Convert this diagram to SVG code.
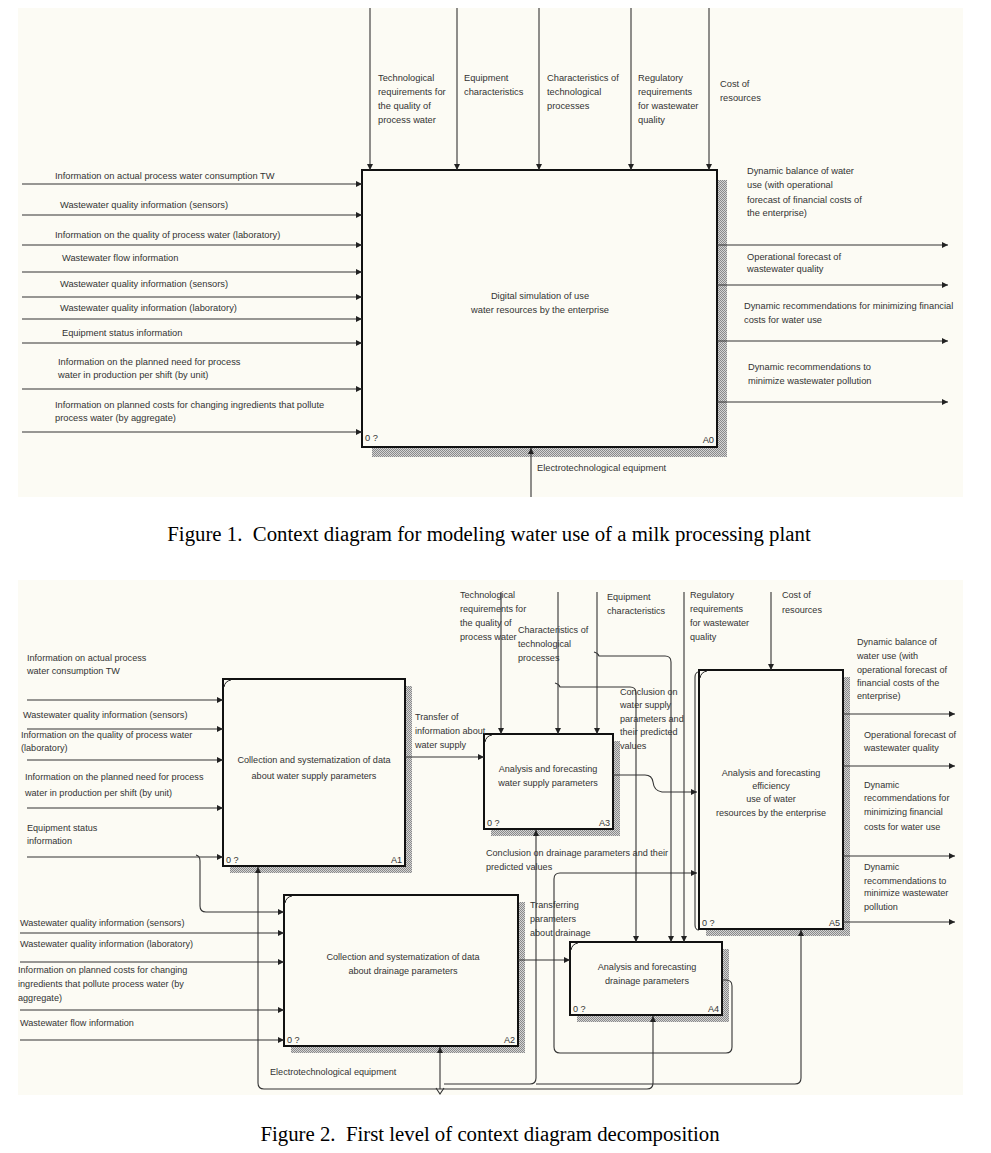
<svg xmlns="http://www.w3.org/2000/svg" width="991" height="1153" viewBox="0 0 991 1153">
<style>
.bg{fill:#fcfbf4}
.box{fill:#fcfbf4;stroke:#111;stroke-width:2}
.sh{fill:url(#hatch)}
.ln{fill:none;stroke:#333;stroke-width:1.1}
.cm{fill:none;stroke:#222;stroke-width:1}
.t1{font-family:"Liberation Sans",Arial,sans-serif;font-size:9.3px;fill:#333}
.t2{font-family:"Liberation Sans",Arial,sans-serif;font-size:9.1px;fill:#333}
.cap{font-family:"Liberation Serif","Times New Roman",serif;font-size:20.8px;fill:#000}
.mid{text-anchor:middle}
.end{text-anchor:end}
</style>
<defs>
<pattern id="hatch" width="2" height="2" patternUnits="userSpaceOnUse">
<rect width="2" height="2" fill="#d4d4d4"/>
<rect width="1" height="1" fill="#8a8a8a"/>
<rect x="1" y="1" width="1" height="1" fill="#8a8a8a"/>
</pattern>
<marker id="ar" viewBox="0 0 10 10" refX="10" refY="5" markerWidth="8" markerHeight="6" markerUnits="userSpaceOnUse" orient="auto">
<path d="M0,0 L10,5 L0,10 z" fill="#222"/>
</marker>
</defs>
<rect x="0" y="0" width="991" height="1153" fill="#ffffff"/>
<rect class="bg" x="18" y="8" width="945" height="489"/>
<rect class="bg" x="18" y="580" width="945" height="515"/>

<!-- ===== Figure 1 ===== -->
<g id="fig1-A0">
<rect class="sh" x="372" y="180" width="355" height="277"/>
<rect class="box" x="362" y="170" width="355" height="277"/>
<text class="t1 mid" x="540" y="299">Digital simulation of use</text>
<text class="t1 mid" x="540" y="313">water resources by the enterprise</text>
<text class="t1" x="365" y="441">0 ?</text>
<text class="t1 end" x="714" y="443">A0</text>
</g>

<g id="fig1-connectors">
<path class="ln" d="M370 8 L370 170" marker-end="url(#ar)"/>
<path class="ln" d="M457 8 L457 170" marker-end="url(#ar)"/>
<path class="ln" d="M539 8 L539 170" marker-end="url(#ar)"/>
<path class="ln" d="M631 8 L631 170" marker-end="url(#ar)"/>
<path class="ln" d="M709 8 L709 170" marker-end="url(#ar)"/>
<path class="ln" d="M22 184 L362 184" marker-end="url(#ar)"/>
<path class="ln" d="M22 215 L362 215" marker-end="url(#ar)"/>
<path class="ln" d="M22 245 L362 245" marker-end="url(#ar)"/>
<path class="ln" d="M22 272 L362 272" marker-end="url(#ar)"/>
<path class="ln" d="M22 297 L362 297" marker-end="url(#ar)"/>
<path class="ln" d="M22 319 L362 319" marker-end="url(#ar)"/>
<path class="ln" d="M22 343 L362 343" marker-end="url(#ar)"/>
<path class="ln" d="M22 389 L362 389" marker-end="url(#ar)"/>
<path class="ln" d="M22 432 L362 432" marker-end="url(#ar)"/>
<path class="ln" d="M717 245 L948 245" marker-end="url(#ar)"/>
<path class="ln" d="M717 285 L948 285" marker-end="url(#ar)"/>
<path class="ln" d="M717 341 L948 341" marker-end="url(#ar)"/>
<path class="ln" d="M717 402 L948 402" marker-end="url(#ar)"/>
<path class="ln" d="M531 497 L531 448" marker-end="url(#ar)"/>
</g>

<g id="fig1-labels">
<text class="t1" x="378" y="81">Technological</text>
<text class="t1" x="378" y="95">requirements for</text>
<text class="t1" x="378" y="109">the quality of</text>
<text class="t1" x="378" y="123">process water</text>
<text class="t1" x="464" y="81">Equipment</text>
<text class="t1" x="464" y="95">characteristics</text>
<text class="t1" x="547" y="81">Characteristics of</text>
<text class="t1" x="547" y="95">technological</text>
<text class="t1" x="547" y="109">processes</text>
<text class="t1" x="638" y="81">Regulatory</text>
<text class="t1" x="638" y="95">requirements</text>
<text class="t1" x="638" y="109">for wastewater</text>
<text class="t1" x="638" y="123">quality</text>
<text class="t1" x="720" y="87">Cost of</text>
<text class="t1" x="720" y="101">resources</text>

<text class="t1" x="55" y="179">Information on actual process water consumption TW</text>
<text class="t1" x="60" y="208">Wastewater quality information (sensors)</text>
<text class="t1" x="55" y="238">Information on the quality of process water (laboratory)</text>
<text class="t1" x="62" y="261">Wastewater flow information</text>
<text class="t1" x="60" y="287">Wastewater quality information (sensors)</text>
<text class="t1" x="60" y="311">Wastewater quality information (laboratory)</text>
<text class="t1" x="62" y="336">Equipment status information</text>
<text class="t1" x="58" y="365">Information on the planned need for process</text>
<text class="t1" x="58" y="378">water in production per shift (by unit)</text>
<text class="t1" x="55" y="408">Information on planned costs for changing ingredients that pollute</text>
<text class="t1" x="55" y="421">process water (by aggregate)</text>

<text class="t1" x="747" y="174">Dynamic balance of water</text>
<text class="t1" x="747" y="188">use (with operational</text>
<text class="t1" x="747" y="203">forecast of financial costs of</text>
<text class="t1" x="747" y="216">the enterprise)</text>
<text class="t1" x="747" y="260">Operational forecast of</text>
<text class="t1" x="747" y="272">wastewater quality</text>
<text class="t1" x="744" y="309">Dynamic recommendations for minimizing financial</text>
<text class="t1" x="744" y="323">costs for water use</text>
<text class="t1" x="748" y="370">Dynamic recommendations to</text>
<text class="t1" x="748" y="384">minimize wastewater pollution</text>
<text class="t1" x="537" y="471">Electrotechnological equipment</text>
</g>

<text class="cap mid" x="489" y="541" xml:space="preserve">Figure 1.  Context diagram for modeling water use of a milk processing plant</text>

<!-- ===== Figure 2 ===== -->
<g id="fig2-A1">
<rect class="sh" x="230" y="686" width="182" height="187"/>
<rect class="box" x="223" y="679" width="182" height="187"/>
<path class="cm" d="M224 687 Q225 681 231 680"/>
<text class="t2 mid" x="314" y="763">Collection and systematization of data</text>
<text class="t2 mid" x="314" y="779">about water supply parameters</text>
<text class="t2" x="226" y="863">0 ?</text>
<text class="t2 end" x="402" y="863">A1</text>
</g>
<g id="fig2-A2">
<rect class="sh" x="291" y="902" width="234" height="151"/>
<rect class="box" x="284" y="895" width="234" height="151"/>
<path class="cm" d="M285 903 Q286 897 292 896"/>
<text class="t2 mid" x="403" y="960">Collection and systematization of data</text>
<text class="t2 mid" x="403" y="974">about drainage parameters</text>
<text class="t2" x="287" y="1043">0 ?</text>
<text class="t2 end" x="515" y="1043">A2</text>
</g>
<g id="fig2-A3">
<rect class="sh" x="491" y="741" width="129" height="95"/>
<rect class="box" x="484" y="734" width="129" height="95"/>
<path class="cm" d="M485 742 Q486 736 492 735"/>
<text class="t2 mid" x="548" y="772">Analysis and forecasting</text>
<text class="t2 mid" x="548" y="786">water supply parameters</text>
<text class="t2" x="487" y="826">0 ?</text>
<text class="t2 end" x="610" y="826">A3</text>
</g>
<g id="fig2-A4">
<rect class="sh" x="577" y="949" width="152" height="73"/>
<rect class="box" x="570" y="942" width="152" height="73"/>
<path class="cm" d="M571 950 Q572 944 578 943"/>
<text class="t2 mid" x="647" y="970">Analysis and forecasting</text>
<text class="t2 mid" x="647" y="984">drainage parameters</text>
<text class="t2" x="573" y="1012">0 ?</text>
<text class="t2 end" x="719" y="1012">A4</text>
</g>
<g id="fig2-A5">
<rect class="sh" x="706" y="677" width="144" height="259"/>
<rect class="box" x="699" y="670" width="144" height="259"/>
<path class="cm" d="M700 678 Q701 672 707 671"/>
<path class="cm" d="M699 672 Q695 672 695 677 L695 925 Q695 930 699 930"/>
<text class="t2 mid" x="771" y="776">Analysis and forecasting</text>
<text class="t2 mid" x="771" y="789">efficiency</text>
<text class="t2 mid" x="771" y="802">use of water</text>
<text class="t2 mid" x="771" y="816">resources by the enterprise</text>
<text class="t2" x="702" y="926">0 ?</text>
<text class="t2 end" x="840" y="926">A5</text>
</g>

<g id="fig2-connectors">
<path class="ln" d="M27 700 L223 700" marker-end="url(#ar)"/>
<path class="ln" d="M27 729 L223 729" marker-end="url(#ar)"/>
<path class="ln" d="M27 760 L223 760" marker-end="url(#ar)"/>
<path class="ln" d="M27 808 L223 808" marker-end="url(#ar)"/>
<path class="ln" d="M27 857 L223 857" marker-end="url(#ar)"/>
<path class="ln" d="M196 855 Q200 856 200 861 L200 906 Q200 912 206 912 L284 912" marker-end="url(#ar)"/>
<path class="ln" d="M20 933 L284 933" marker-end="url(#ar)"/>
<path class="ln" d="M20 962 L284 962" marker-end="url(#ar)"/>
<path class="ln" d="M20 1010 L284 1010" marker-end="url(#ar)"/>
<path class="ln" d="M20 1040 L284 1040" marker-end="url(#ar)"/>
<path class="ln" d="M405 757 L484 757" marker-end="url(#ar)"/>
<path class="ln" d="M613 775 L645 775 Q652 775 653 782 Q654 791 662 792 L697 792" marker-end="url(#ar)"/>
<path class="ln" d="M518 960 L570 960" marker-end="url(#ar)"/>
<path class="ln" d="M722 980 L726 980 Q732 980 732 986 L732 1047 Q732 1053 726 1053 L560 1053 Q554 1053 554 1047 L554 879 Q554 873 560 873 L697 873" marker-end="url(#ar)"/>
<path class="ln" d="M501 592 L501 734" marker-end="url(#ar)"/>
<path class="ln" d="M558 592 L558 734" marker-end="url(#ar)"/>
<path class="ln" d="M555 683 Q559 684 560 687 L630 687 Q636 687 636 693 L636 942" marker-end="url(#ar)"/>
<path class="ln" d="M597 592 L597 734" marker-end="url(#ar)"/>
<path class="ln" d="M594 652 Q598 653 599 656 L665 656 Q671 656 671 662 L671 942" marker-end="url(#ar)"/>
<path class="ln" d="M684 592 L684 942" marker-end="url(#ar)"/>
<path class="ln" d="M771 592 L771 670" marker-end="url(#ar)"/>
<path class="ln" d="M843 714 L955 714" marker-end="url(#ar)"/>
<path class="ln" d="M843 766 L955 766" marker-end="url(#ar)"/>
<path class="ln" d="M843 856 L955 856" marker-end="url(#ar)"/>
<path class="ln" d="M843 922 L955 922" marker-end="url(#ar)"/>
<path class="ln" d="M440 1089 L440 1047" marker-end="url(#ar)"/>
<path class="ln" d="M440 1089 L264 1089 Q258 1089 258 1083 L258 867" marker-end="url(#ar)"/>
<path class="ln" d="M440 1089 L647 1089 Q653 1089 653 1083 L653 1016" marker-end="url(#ar)"/>
<path class="ln" d="M444 1084 L530 1084 Q536 1084 536 1078 L536 830" marker-end="url(#ar)"/>
<path class="ln" d="M536 1084 L795 1084 Q801 1084 801 1078 L801 930" marker-end="url(#ar)"/>
<path class="ln" d="M436 1088 L440 1094 L444 1088"/>
</g>

<g id="fig2-labels">
<text class="t2" x="27" y="661">Information on actual process</text>
<text class="t2" x="27" y="674">water consumption TW</text>
<text class="t2" x="23" y="718">Wastewater quality information (sensors)</text>
<text class="t2" x="21" y="738">Information on the quality of process water</text>
<text class="t2" x="21" y="751">(laboratory)</text>
<text class="t2" x="25" y="780">Information on the planned need for process</text>
<text class="t2" x="25" y="796">water in production per shift (by unit)</text>
<text class="t2" x="27" y="831">Equipment status</text>
<text class="t2" x="27" y="844">information</text>
<text class="t2" x="20" y="926">Wastewater quality information (sensors)</text>
<text class="t2" x="20" y="947">Wastewater quality information (laboratory)</text>
<text class="t2" x="18" y="973">Information on planned costs for changing</text>
<text class="t2" x="18" y="987">ingredients that pollute process water (by</text>
<text class="t2" x="18" y="1001">aggregate)</text>
<text class="t2" x="20" y="1026">Wastewater flow information</text>

<text class="t2" x="460" y="598">Technological</text>
<text class="t2" x="460" y="612">requirements for</text>
<text class="t2" x="460" y="626">the quality of</text>
<text class="t2" x="460" y="640">process water</text>
<text class="t2" x="518" y="633">Characteristics of</text>
<text class="t2" x="518" y="647">technological</text>
<text class="t2" x="518" y="661">processes</text>
<text class="t2" x="607" y="600">Equipment</text>
<text class="t2" x="607" y="614">characteristics</text>
<text class="t2" x="690" y="598">Regulatory</text>
<text class="t2" x="690" y="612">requirements</text>
<text class="t2" x="690" y="626">for wastewater</text>
<text class="t2" x="690" y="640">quality</text>
<text class="t2" x="782" y="598">Cost of</text>
<text class="t2" x="782" y="613">resources</text>

<text class="t2" x="415" y="720">Transfer of</text>
<text class="t2" x="415" y="734">information about</text>
<text class="t2" x="415" y="748">water supply</text>
<text class="t2" x="620" y="695">Conclusion on</text>
<text class="t2" x="620" y="708">water supply</text>
<text class="t2" x="620" y="722">parameters and</text>
<text class="t2" x="620" y="735">their predicted</text>
<text class="t2" x="620" y="749">values</text>
<text class="t2" x="486" y="856">Conclusion on drainage parameters and their</text>
<text class="t2" x="486" y="870">predicted values</text>
<text class="t2" x="530" y="908">Transferring</text>
<text class="t2" x="530" y="922">parameters</text>
<text class="t2" x="530" y="936">about drainage</text>
<text class="t2" x="270" y="1075">Electrotechnological equipment</text>

<text class="t2" x="857" y="645">Dynamic balance of</text>
<text class="t2" x="857" y="659">water use (with</text>
<text class="t2" x="857" y="673">operational forecast of</text>
<text class="t2" x="857" y="686">financial costs of the</text>
<text class="t2" x="857" y="699">enterprise)</text>
<text class="t2" x="864" y="738">Operational forecast of</text>
<text class="t2" x="864" y="751">wastewater quality</text>
<text class="t2" x="864" y="788">Dynamic</text>
<text class="t2" x="864" y="801">recommendations for</text>
<text class="t2" x="864" y="815">minimizing financial</text>
<text class="t2" x="864" y="830">costs for water use</text>
<text class="t2" x="864" y="870">Dynamic</text>
<text class="t2" x="864" y="884">recommendations to</text>
<text class="t2" x="864" y="896">minimize wastewater</text>
<text class="t2" x="864" y="910">pollution</text>
</g>

<text class="cap mid" x="490" y="1141" xml:space="preserve">Figure 2.  First level of context diagram decomposition</text>
</svg>
